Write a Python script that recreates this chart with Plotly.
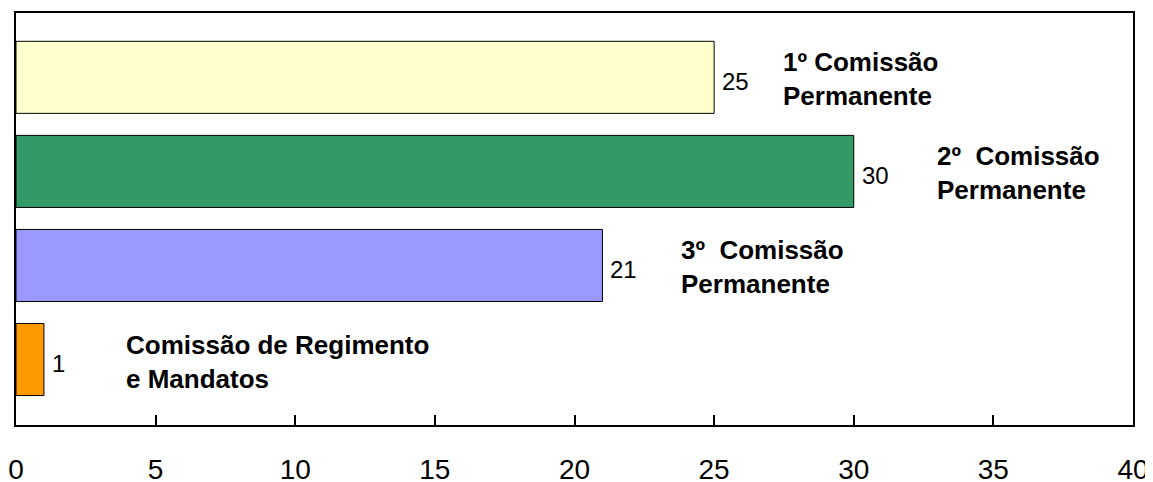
import plotly.graph_objects as go

categories = ["1º Comissão Permanente", "2º Comissão Permanente",
              "3º Comissão Permanente", "Comissão de Regimento e Mandatos"]
values = [25, 30, 21, 1]
label_texts = ["1º Comissão<br>Permanente", "2º\u00a0 Comissão<br>Permanente",
               "3º\u00a0 Comissão<br>Permanente", "Comissão de Regimento<br>e Mandatos"]
colors = ["#FFFFCC", "#339966", "#9999FF", "#FF9900"]
x_ticks = [0, 5, 10, 15, 20, 25, 30, 35, 40]
label_shift = [67, 81, 77, 80]

FONT = "Arial, 'Liberation Sans', sans-serif"
pos = list(range(len(categories)))

fig = go.Figure()
fig.add_trace(go.Bar(
    x=values, y=pos, orientation="h", width=0.766,
    marker=dict(color=colors, line=dict(color="black", width=1)),
    hoverinfo="skip", showlegend=False,
))

for i, v in enumerate(values):
    fig.add_annotation(x=v, y=i, text=str(v), showarrow=False, xanchor="left",
                       xshift=6, yshift=-4, font=dict(family=FONT, size=24, color="black"))
    fig.add_annotation(x=v, y=i, text=label_texts[i], showarrow=False, xanchor="left",
                       align="left", xshift=label_shift[i], yshift=-2,
                       font=dict(family=FONT, size=26, color="black", weight="bold"))

fig.update_xaxes(range=[0, 40], tickvals=x_ticks, ticktext=[str(t) for t in x_ticks],
                 ticks="inside", ticklen=10, tickwidth=1.5, tickcolor="black",
                 showline=True, linecolor="black", linewidth=2, mirror=True,
                 showgrid=False, zeroline=False, ticklabelstandoff=18, automargin=False,
                 tickfont=dict(family=FONT, size=28, color="black"))
fig.update_yaxes(range=[3.696, -0.684], showticklabels=False, ticks="",
                 showline=True, linecolor="black", linewidth=2, mirror=True,
                 showgrid=False, zeroline=False, automargin=False)

fig.update_layout(width=1145, height=474, margin=dict(l=8, r=20, t=5, b=57),
                  plot_bgcolor="white", paper_bgcolor="white",
                  font=dict(family=FONT))
fig.write_html("out.html")
